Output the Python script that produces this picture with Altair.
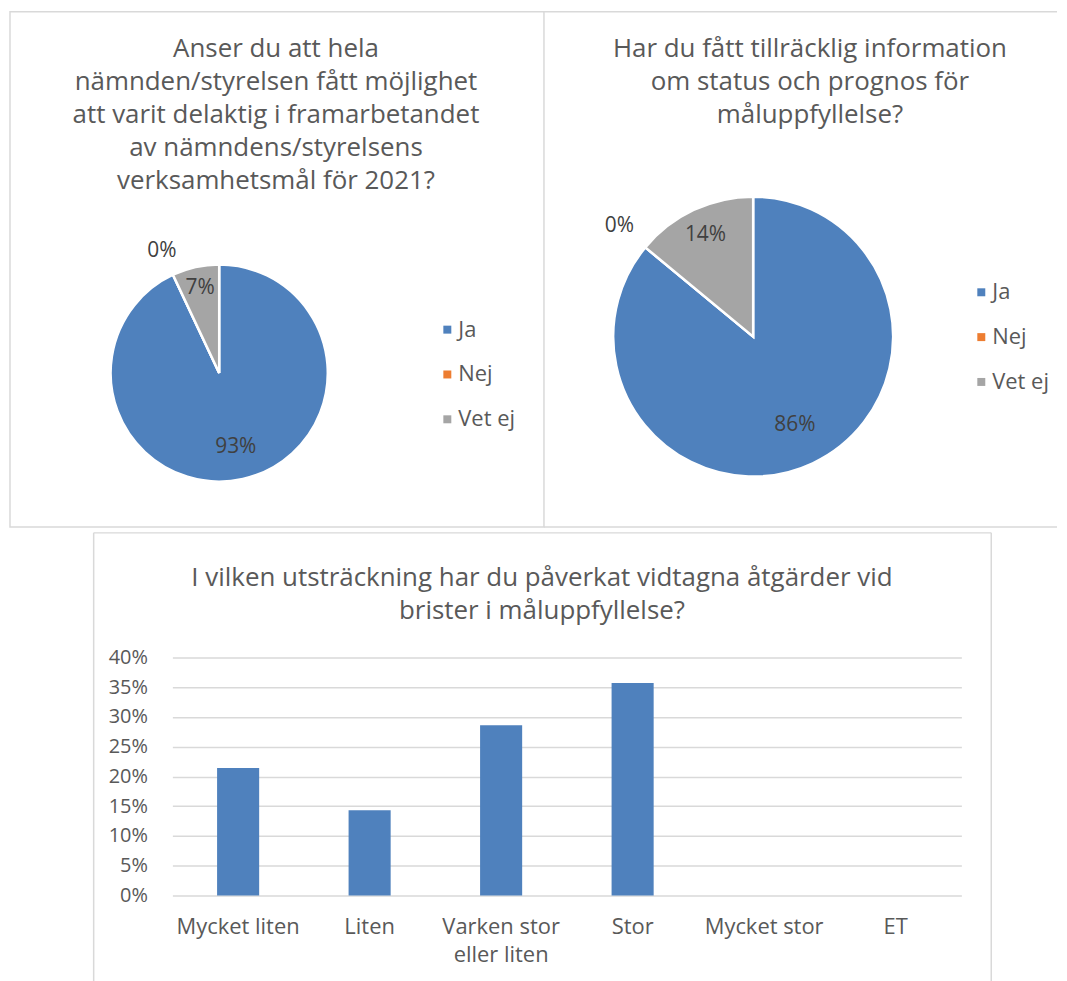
import altair as alt
import pandas as pd

# ---- data ----
answers = ["Ja", "Nej", "Vet ej"]
answer_colors = ["#4F81BD", "#ED7D31", "#A5A5A5"]

pie1_values = [0.93, 0.0, 0.07]
pie1_title = [
    "Anser du att hela",
    "nämnden/styrelsen fått möjlighet",
    "att varit delaktig i framarbetandet",
    "av nämndens/styrelsens",
    "verksamhetsmål för 2021?",
]

pie2_values = [0.86, 0.0, 0.14]
pie2_title = [
    "Har du fått tillräcklig information",
    "om status och prognos för",
    "måluppfyllelse?",
]

bar_categories = ["Mycket liten", "Liten", "Varken stor eller liten", "Stor", "Mycket stor", "ET"]
bar_values = [0.214, 0.143, 0.286, 0.357, 0.0, 0.0]
bar_title = [
    "I vilken utsträckning har du påverkat vidtagna åtgärder vid",
    "brister i måluppfyllelse?",
]
y_ticks = [0.0, 0.05, 0.10, 0.15, 0.20, 0.25, 0.30, 0.35, 0.40]

TITLE_COLOR = "#595959"
LABEL_COLOR = "#404040"
GRID = "#d9d9d9"
FONT = "Open Sans"

LW, RW, PH = 536, 515, 517
BW, BH = 901, 436
one = pd.DataFrame({"a": [0]})


def frame_rect(w, h):
    return alt.Chart(one).mark_rect(fillOpacity=0, stroke=GRID, strokeWidth=1.5).encode(
        x=alt.value(0), x2=alt.value(w), y=alt.value(0), y2=alt.value(h)
    )


def hline(w, yv):
    return alt.Chart(one).mark_rule(stroke=GRID, strokeWidth=1.5).encode(
        x=alt.value(0), x2=alt.value(w), y=alt.value(yv)
    )


def vline(xv, h):
    return alt.Chart(one).mark_rule(stroke=GRID, strokeWidth=1.5).encode(
        x=alt.value(xv), y=alt.value(0), y2=alt.value(h)
    )


def pie_panel(values, title_lines, cx, cy, R, legend_y, width, border):
    df = pd.DataFrame({"answer": answers, "v": values, "idx": list(range(len(answers)))})
    arcs = alt.Chart(df).mark_arc(x=cx, y=cy, radius=R, stroke="white", strokeWidth=2.5).encode(
        theta=alt.Theta("v:Q", stack=True),
        order=alt.Order("idx:Q"),
        color=alt.Color(
            "answer:N",
            sort=answers,
            scale=alt.Scale(domain=answers, range=answer_colors),
            legend=alt.Legend(
                orient="none",
                legendX=428,
                legendY=legend_y,
                title=None,
                symbolType="square",
                symbolSize=64,
                symbolStrokeWidth=0,
                labelFontSize=22,
                labelColor=TITLE_COLOR,
                labelFont=FONT,
                labelOffset=0,
                rowPadding=23,
                padding=0,
            ),
        ),
    )
    labels = (
        alt.Chart(df)
        .transform_window(cum="sum(v)", sort=[alt.SortField("idx", order="ascending")])
        .transform_calculate(
            mid="datum.cum - datum.v / 2",
            r=f"datum.v == 0 ? {1.24 * R} : (datum.v > 0.5 ? {0.70 * R} : {0.80 * R})",
        )
        .mark_text(x=cx, y=cy, fontSize=21, color=LABEL_COLOR, font=FONT)
        .encode(
            theta=alt.Theta("mid:Q", stack=False),
            radius=alt.Radius("r:Q", scale=None),
            text=alt.Text("v:Q", format=".0%"),
        )
    )
    tdf = pd.DataFrame({"t": ["\n".join(title_lines)]})
    title = alt.Chart(tdf).mark_text(
        x=267, y=24, fontSize=26, lineHeight=33.3, lineBreak="\n",
        color=TITLE_COLOR, align="center", baseline="top", font=FONT,
    ).encode(text="t:N")
    return alt.layer(*border, arcs, labels, title).properties(width=width, height=PH)


left = pie_panel(pie1_values, pie1_title, cx=210, cy=362.5, R=109, legend_y=308,
                 width=LW, border=[frame_rect(LW, PH)])
right = pie_panel(pie2_values, pie2_title, cx=210, cy=326, R=140.5, legend_y=270.5,
                  width=RW, border=[hline(RW, 0), hline(RW, PH)])

# ---- bar panel ----
bdf = pd.DataFrame({"cat": bar_categories, "v": bar_values})
bars = alt.Chart(bdf).mark_bar(color="#4F81BD").encode(
    x=alt.X(
        "cat:N",
        sort=bar_categories,
        scale=alt.Scale(range=[79, 871], paddingInner=0.68, paddingOuter=0.34),
        axis=alt.Axis(
            title=None,
            orient="bottom",
            offset=-(BH - 364),
            domain=False,
            ticks=False,
            tickSize=0,
            labelAngle=0,
            labelPadding=21,
            labelFontSize=22,
            labelColor=TITLE_COLOR,
            labelFont=FONT,
            labelLineHeight=28,
            labelBaseline="top",
            labelExpr="datum.label == 'Varken stor eller liten' ? ['Varken stor', 'eller liten'] : datum.label",
        ),
    ),
    y=alt.Y(
        "v:Q",
        scale=alt.Scale(domain=[0, 0.4], range=[364, 125], nice=False),
        axis=alt.Axis(
            title=None,
            orient="left",
            offset=-79,
            values=y_ticks,
            format=".0%",
            domain=False,
            ticks=False,
            tickSize=0,
            labelPadding=25,
            labelFontSize=20,
            labelColor=TITLE_COLOR,
            labelFont=FONT,
            grid=True,
            gridColor=GRID,
            gridWidth=1.5,
        ),
    ),
)
btdf = pd.DataFrame({"t": ["\n".join(bar_title)]})
btitle = alt.Chart(btdf).mark_text(
    x=450, y=32, fontSize=26, lineHeight=33.3, lineBreak="\n",
    color=TITLE_COLOR, align="center", baseline="top", font=FONT,
).encode(text="t:N")
bottom = alt.layer(
    hline(BW, 0), vline(0, BH + 20), vline(BW, BH + 20), bars, btitle
).properties(width=BW, height=BH)

spacer = alt.Chart(one).mark_point(opacity=0).properties(width=84, height=BH)

top = alt.hconcat(left, right, spacing=0, bounds="flush").resolve_legend(color="independent")
bottom_row = alt.hconcat(spacer, bottom, spacing=0, bounds="flush")

chart = (
    alt.vconcat(top, bottom_row, spacing=2)
    .properties(padding={"left": 0, "top": 0, "right": 0, "bottom": 0})
    .configure(font=FONT)
    .configure_view(stroke="transparent")
)

chart.save("out.html", embed_options={"renderer": "svg", "actions": False})
